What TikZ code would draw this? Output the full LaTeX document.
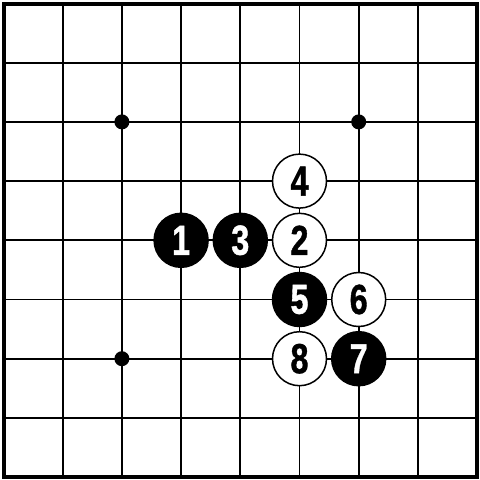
\documentclass[tikz,border=0pt]{standalone}
\usepackage{fontspec}
\usepackage{graphicx}
\setmainfont{Liberation Sans}
\newfontfamily\stonefont{Liberation Sans Bold}[FakeBold=1.2]
\newcommand{\stonenum}[1]{\scalebox{0.77}[1]{\stonefont\fontsize{42}{42}\selectfont #1}}
\begin{document}
\begin{tikzpicture}[x=1pt,y=-1pt,
  gridline/.style={line width=1.9pt,black},
  edge/.style={line width=4pt,black},
  star/.style={circle,fill=black,minimum size=15pt,inner sep=0pt},
  stone/.style={circle,minimum size=54pt,inner sep=0pt,line width=1.5pt,draw=black},
  bstone/.style={stone,fill=black,text=white},
  wstone/.style={stone,fill=white,text=black}]
\def\G#1{3.5+59.2*#1}
\useasboundingbox (0,0) rectangle (480,480);
\fill[white] (0,0) rectangle (480,480);
\foreach \i in {1,...,7}{
  \draw[gridline] ({\G{\i}},3.5) -- ({\G{\i}},477);
  \draw[gridline] (3.5,{\G{\i}}) -- (477,{\G{\i}});
}
\draw[edge] (3.5,3.5) rectangle (477,477);
\node[star] (s1) at ({\G{2}},{\G{2}}) {};
\node[star] (s2) at ({\G{6}},{\G{2}}) {};
\node[star] (s3) at ({\G{2}},{\G{6}}) {};
\node[bstone] (m1) at ({\G{3}},{\G{4}}) {\stonenum{1}};
\node[bstone] (m3) at ({\G{4}},{\G{4}}) {\stonenum{3}};
\node[wstone] (m2) at ({\G{5}},{\G{4}}) {\stonenum{2}};
\node[wstone] (m4) at ({\G{5}},{\G{3}}) {\stonenum{4}};
\node[bstone] (m5) at ({\G{5}},{\G{5}}) {\stonenum{5}};
\node[wstone] (m6) at ({\G{6}},{\G{5}}) {\stonenum{6}};
\node[wstone] (m8) at ({\G{5}},{\G{6}}) {\stonenum{8}};
\node[bstone] (m7) at ({\G{6}},{\G{6}}) {\stonenum{7}};
\end{tikzpicture}
\end{document}
